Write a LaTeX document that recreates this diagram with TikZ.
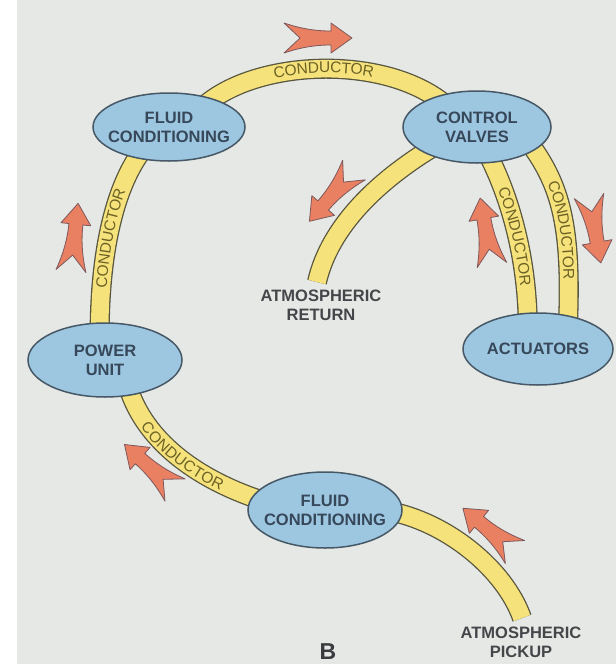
\documentclass[tikz,border=0pt]{standalone}
\usepackage{fontspec}
\setmainfont{Liberation Sans}
\usetikzlibrary{shapes.geometric,decorations.text}
\definecolor{paper}{RGB}{230,232,229}
\definecolor{ellfill}{RGB}{157,199,225}
\definecolor{ellline}{RGB}{70,88,102}
\definecolor{bandfill}{RGB}{246,226,122}
\definecolor{bandline}{RGB}{88,86,62}
\definecolor{arrfill}{RGB}{233,128,98}
\definecolor{arrline}{RGB}{125,88,92}
\definecolor{condtext}{RGB}{108,98,38}
\definecolor{labtext}{RGB}{55,72,90}
\definecolor{atmtext}{RGB}{68,70,74}
\pgfdeclarelayer{paperlayer}
\pgfdeclarelayer{bandlayer}
\pgfsetlayers{paperlayer,bandlayer,main}
\newcommand\condfont{\fontsize{15.5}{15.5}\selectfont}
\begin{document}
\begin{tikzpicture}[x=1pt,y=-1pt,
  ell/.style={ellipse, draw=ellline, line width=1.5pt, fill=ellfill, text=labtext,
    font=\fontsize{16.5}{19}\selectfont\bfseries, align=center, inner xsep=-14pt, inner ysep=0pt},
  atm/.style={text=atmtext, font=\fontsize{16.5}{19}\selectfont\bfseries, align=center, inner sep=0pt},
  band/.style={draw=bandline, line width=1.3pt, double=bandfill, double distance=17.5pt},
  bothext/.style={shorten <=-8pt, shorten >=-8pt},
  startext/.style={shorten <=-8pt},
  condlabel/.style={decorate, decoration={text along path, text={|\condfont|CONDUCTOR},
    text align=center, raise=-5.5pt, text color=condtext}},
  arrowstyle/.style={fill=arrfill, draw=arrline, line width=0.8pt, line join=round},
  flowarrow/.pic={\path[arrowstyle] (0,15) .. controls (18,9) and (32,7) .. (47,7) -- (47,15) -- (68,0)
     -- (47,-15) -- (47,-7) .. controls (32,-7) and (18,-9) .. (0,-15) -- (16,0) -- cycle;}
]
\useasboundingbox (0,0) rectangle (616,667);
\begin{pgfonlayer}{paperlayer}
  \fill[paper] (0,0) rectangle (616,667);
  \fill[white] (0,0) rectangle (17,667);
  \fill[white] (0,664) rectangle (616,667);
\end{pgfonlayer}

% nodes
\node[ell, minimum width=152pt, minimum height=68pt] (fctl) at (169,127) {FLUID\\CONDITIONING};
\node[ell, minimum width=148pt, minimum height=72pt] (cv) at (477,127) {CONTROL\\VALVES};
\node[ell, minimum width=154pt, minimum height=74pt] (pu) at (105,360) {POWER\\UNIT};
\node[ell, minimum width=150pt, minimum height=72pt] (act) at (538,349) {ACTUATORS};
\node[ell, minimum width=154pt, minimum height=76pt] (fcb) at (325,510) {FLUID\\CONDITIONING};
\coordinate (retend) at (317,282);
\coordinate (pickend) at (522,618);

% conductors
\begin{pgfonlayer}{bandlayer}
  \draw[band, bothext] (fctl.33) .. controls (260,60) and (380,55) .. (cv.144);
  \draw[band, bothext] (pu.98) .. controls (100,260) and (112,192) .. (fctl.224);
  \draw[band, bothext] (pu.-54) .. controls (145,440) and (195,478) .. (fcb.170);
  \draw[band, startext] (cv.206) .. controls (380,180) and (330,225) .. (retend);
  \draw[band, bothext] (cv.-67) .. controls (505,188) and (526,245) .. (act.106);
  \draw[band, bothext] (cv.-22) .. controls (560,185) and (572,225) .. (act.48);
  \draw[band, startext] (fcb.-3) .. controls (450,525) and (505,570) .. (pickend);
\end{pgfonlayer}

% conductor labels
\path[condlabel] (fctl.33) .. controls (260,60) and (380,55) .. (cv.144);
\path[condlabel] (pu.98) .. controls (100,260) and (112,192) .. (fctl.224);
\path[condlabel] (pu.-54) .. controls (145,440) and (195,478) .. (fcb.170);
\path[condlabel] (cv.-67) .. controls (505,188) and (526,245) .. (act.106);
\path[condlabel] (cv.-22) .. controls (560,185) and (572,225) .. (act.48);

% flow arrows
\pic[rotate=0] at (284,38) {flowarrow};
\pic[rotate=84] at (71,271) {flowarrow};
\pic[rotate=229] at (354,170) {flowarrow};
\pic[rotate=100] at (492,265) {flowarrow};
\pic[rotate=-80] at (589,196) {flowarrow};
\pic[rotate=138] at (175,490) {flowarrow};
\pic[rotate=140] at (515,552) {flowarrow};

% free labels
\node[atm] (atmret) at (321,305) {ATMOSPHERIC\\RETURN};
\node[atm] (atmpick) at (521,642) {ATMOSPHERIC\\PICKUP};
\node[text=atmtext!85!black, font=\fontsize{23}{23}\selectfont\bfseries, inner sep=0pt] (blabel) at (328,652) {B};
\end{tikzpicture}
\end{document}
